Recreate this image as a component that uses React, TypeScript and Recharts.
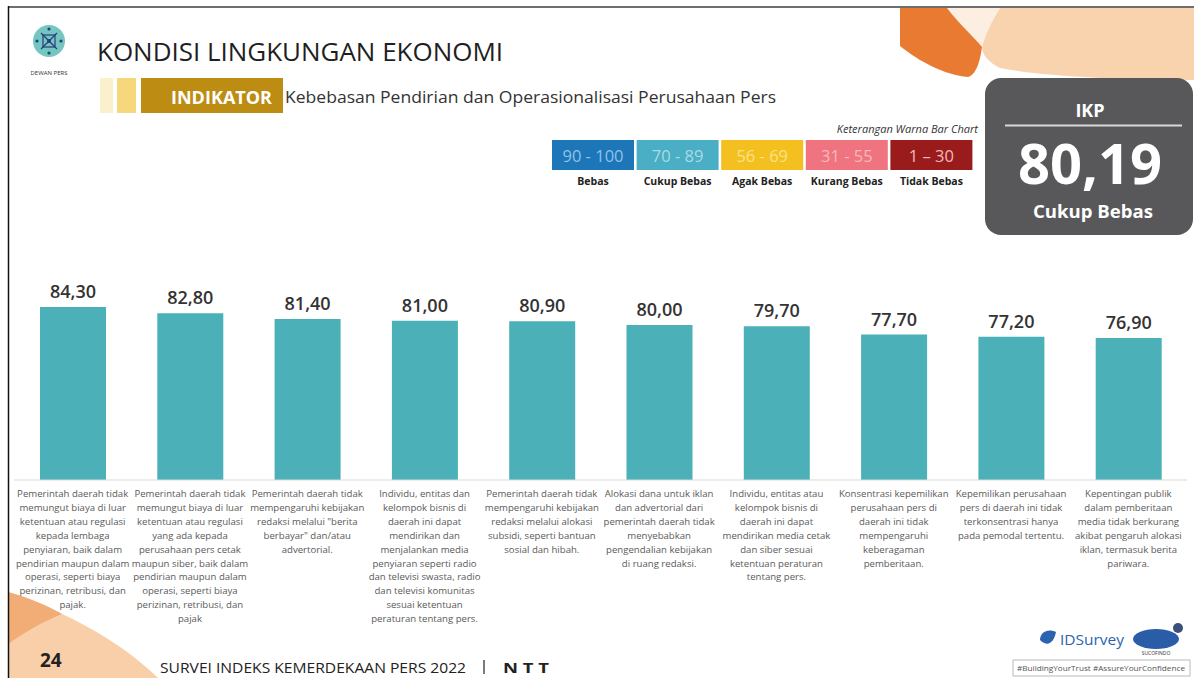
import React from 'react';
import { BarChart, Bar, XAxis, YAxis, LabelList } from 'recharts';

const categories: string[] = [
  'Pemerintah daerah tidak\nmemungut biaya di luar\nketentuan atau regulasi\nkepada lembaga\npenyiaran, baik dalam\npendirian maupun dalam\noperasi, seperti biaya\nperizinan, retribusi, dan\npajak.',
  'Pemerintah daerah tidak\nmemungut biaya di luar\nketentuan atau regulasi\nyang ada kepada\nperusahaan pers cetak\nmaupun siber, baik dalam\npendirian maupun dalam\noperasi, seperti biaya\nperizinan, retribusi, dan\npajak',
  'Pemerintah daerah tidak\nmempengaruhi kebijakan\nredaksi melalui "berita\nberbayar" dan/atau\nadvertorial.',
  'Individu, entitas dan\nkelompok bisnis di\ndaerah ini dapat\nmendirikan dan\nmenjalankan media\npenyiaran seperti radio\ndan televisi swasta, radio\ndan televisi komunitas\nsesuai ketentuan\nperaturan tentang pers.',
  'Pemerintah daerah tidak\nmempengaruhi kebijakan\nredaksi melalui alokasi\nsubsidi, seperti bantuan\nsosial dan hibah.',
  'Alokasi dana untuk iklan\ndan advertorial dari\npemerintah daerah tidak\nmenyebabkan\npengendalian kebijakan\ndi ruang redaksi.',
  'Individu, entitas atau\nkelompok bisnis di\ndaerah ini dapat\nmendirikan media cetak\ndan siber sesuai\nketentuan peraturan\ntentang pers.',
  'Konsentrasi kepemilikan\nperusahaan pers di\ndaerah ini tidak\nmempengaruhi\nkeberagaman\npemberitaan.',
  'Kepemilikan perusahaan\npers di daerah ini tidak\nterkonsentrasi hanya\npada pemodal tertentu.',
  'Kepentingan publik\ndalam pemberitaan\nmedia tidak berkurang\nakibat pengaruh alokasi\niklan, termasuk berita\npariwara.',
];

const values: number[] = [84.3, 82.8, 81.4, 81.0, 80.9, 80.0, 79.7, 77.7, 77.2, 76.9];

const legendRanges: string[] = ['90 - 100', '70 - 89', '56 - 69', '31 - 55', '1 \u2013 30'];
const legendLabels: string[] = ['Bebas', 'Cukup Bebas', 'Agak Bebas', 'Kurang Bebas', 'Tidak Bebas'];

const ikpValue = 80.19;
const ikpLabel = 'Cukup Bebas';

const title = 'KONDISI LINGKUNGAN EKONOMI';
const indikatorText = 'Kebebasan Pendirian dan Operasionalisasi Perusahaan Pers';
const footerText = 'SURVEI INDEKS KEMERDEKAAN PERS 2022';
const regionText = 'N T T';
const pageNumber = '24';

const legendFill = ['#1d76b8', '#4aaec4', '#f4c01f', '#ef7480', '#9a1b1b'];
const legendTextFill = ['#8fc3e8', '#a9dbe6', '#fbe08a', '#f8b7bd', '#f0bcbc'];

const data = categories.map((c, i) => ({ cat: c, value: values[i] }));

const fmt = (v: any) => Number(v).toFixed(2).replace('.', ',');

const FONT = "'Open Sans', 'Noto Sans', sans-serif";

const DescTick = (props: any) => {
  const { x, y, payload } = props;
  const lines = String(payload.value).split('\n');
  return (
    <text x={x} y={y} textAnchor="middle" fontFamily={FONT} fontSize={9.6} fill="#5a5a5a">
      {lines.map((l, i) => (
        <tspan key={i} x={x} dy={i === 0 ? 9 : 13.9}>
          {l}
        </tspan>
      ))}
    </text>
  );
};

const Decorations = () => (
  <svg width={1194} height={678} style={{ position: 'absolute', left: 0, top: 0 }}>
    <rect x={0} y={0} width={1194} height={678} fill="#ffffff" />
    {/* top-right orange shapes */}
    <path d="M1000,8 L1194,8 L1194,80 C1120,80 1040,76 1000,68 C988,62 982,54 982,47 C985,35 992,20 1000,8 Z" fill="#f9d3ad" />
    <path d="M947,8 L1000,8 C992,20 985,35 982,47 C975,38 960,25 947,8 Z" fill="#fcefe2" />
    <path d="M900,8 L947,8 C960,25 975,38 982,47 C980,62 976,75 968,77 C945,75 920,62 900,46 Z" fill="#e97a31" />
    {/* bottom-left orange shape */}
    <path d="M8,592 C55,608 115,636 158,678 L8,678 Z" fill="#f8cfa8" />
    <path d="M8,592 C30,598 48,606 62,614 C42,622 22,634 8,644 Z" fill="#f2ad76" />
    {/* borders */}
    <line x1={8} y1={7} x2={1194} y2={7} stroke="#6e6e6e" strokeWidth={2} />
    <line x1={8.5} y1={6} x2={8.5} y2={678} stroke="#111" strokeWidth={1.5} />
    {/* logo */}
    <circle cx={49} cy={41} r={16} fill="#74c7c1" />
    <g stroke="#2b3d7a" strokeWidth={1.2} fill="none">
      <path d="M41,33 L57,49 M57,33 L41,49" />
      <rect x={43} y={35} width={12} height={12} />
    </g>
    <g fill="#2b3d7a">
      <circle cx={49} cy={29} r={1.6} />
      <circle cx={49} cy={53} r={1.6} />
      <circle cx={37} cy={41} r={1.6} />
      <circle cx={61} cy={41} r={1.6} />
      <circle cx={49} cy={41} r={2} />
    </g>
    <text x={49} y={75} textAnchor="middle" fontFamily={FONT} fontSize={6} fill="#333">DEWAN PERS</text>
    {/* title */}
    <text x={97} y={61} fontFamily={FONT} fontSize={26} fill="#1f1f1f" textLength={406} lengthAdjust="spacingAndGlyphs">{title}</text>
    {/* indikator */}
    <rect x={100} y={78} width={13} height={35} fill="#faf1cc" />
    <rect x={117} y={78} width={19} height={35} fill="#f7d77c" />
    <rect x={141} y={78} width={142} height={35} fill="#bd8c12" />
    <text x={171} y={104} fontFamily={FONT} fontSize={17} fontWeight={700} fill="#ffffff" textLength={101} lengthAdjust="spacingAndGlyphs">INDIKATOR</text>
    <text x={285} y={103} fontFamily={FONT} fontSize={16} fill="#333" textLength={491} lengthAdjust="spacingAndGlyphs">{indikatorText}</text>
    {/* legend */}
    <text x={978} y={133} textAnchor="end" fontFamily={FONT} fontSize={11} fontStyle="italic" fill="#333">Keterangan Warna Bar Chart</text>
    {legendRanges.map((r, i) => {
      const x0 = 552 + i * 84.6;
      return (
        <g key={i}>
          <rect x={x0} y={140} width={82} height={30} fill={legendFill[i]} />
          <text x={x0 + 41} y={162} textAnchor="middle" fontFamily={FONT} fontSize={16.5} fill={legendTextFill[i]}>{r}</text>
          <text x={x0 + 41} y={185} textAnchor="middle" fontFamily={FONT} fontSize={10.5} fontWeight={700} fill="#222">{legendLabels[i]}</text>
        </g>
      );
    })}
    {/* IKP box */}
    <rect x={985} y={78} width={208} height={157} rx={16} fill="#58585a" />
    <text x={1090} y={117} textAnchor="middle" fontFamily={FONT} fontSize={18} fontWeight={700} fill="#fff">IKP</text>
    <line x1={1005} y1={125.5} x2={1182} y2={125.5} stroke="#d8d8d8" strokeWidth={2} />
    <text x={1090} y={184} textAnchor="middle" fontFamily={FONT} fontSize={56} fontWeight={700} fill="#fff" textLength={144} lengthAdjust="spacingAndGlyphs">{ikpValue.toFixed(2).replace('.', ',')}</text>
    <text x={1093} y={218} textAnchor="middle" fontFamily={FONT} fontSize={17} fontWeight={700} fill="#fff" textLength={120} lengthAdjust="spacingAndGlyphs">{ikpLabel}</text>
    {/* footer */}
    <text x={40} y={667} fontFamily={FONT} fontSize={19} fontWeight={700} fill="#222">{pageNumber}</text>
    <text x={160} y={673} fontFamily={FONT} fontSize={15} fill="#222" textLength={306} lengthAdjust="spacingAndGlyphs">{footerText}</text>
    <line x1={484} y1={660} x2={484} y2={674} stroke="#333" strokeWidth={1.3} />
    <text x={503} y={673} fontFamily={FONT} fontSize={15} fontWeight={700} fill="#222" textLength={46} lengthAdjust="spacingAndGlyphs">{regionText}</text>
    {/* bottom-right logos */}
    <circle cx={1178} cy={628} r={5} fill="#3b4f7a" />
    <path d="M1040,640 C1040,632 1048,628 1056,632 C1054,642 1048,648 1040,640 Z" fill="#2a64b0" />
    <text x={1060} y={645} fontFamily={FONT} fontSize={15} fill="#2a64b0" textLength={64} lengthAdjust="spacingAndGlyphs">IDSurvey</text>
    <ellipse cx={1156} cy={639} rx={23} ry={10} fill="#2a5ca8" />
    <text x={1156} y={655} textAnchor="middle" fontFamily={FONT} fontSize={5} fill="#333">SUCOFINDO</text>
    <rect x={1013} y={660} width={177} height={16} fill="#fff" stroke="#bbb" strokeWidth={1} />
    <text x={1101} y={671} textAnchor="middle" fontFamily={FONT} fontSize={7} fill="#555" textLength={168} lengthAdjust="spacingAndGlyphs">#BuildingYourTrust #AssureYourConfidence</text>
  </svg>
);

export default function App() {
  return (
    <div style={{ position: 'absolute', left: 0, top: 0, width: 1194, height: 678, overflow: 'hidden', background: '#fff' }}>
      <Decorations />
      <div style={{ position: 'absolute', left: 0, top: 230 }}>
        <BarChart width={1194} height={400} data={data} margin={{ top: 53, right: 7, left: 14, bottom: 0 }}>
          <YAxis hide domain={[43, 90]} />
          <XAxis
            dataKey="cat"
            height={150}
            interval={0}
            tickLine={false}
            axisLine={{ stroke: '#d9d9d9' }}
            tick={<DescTick />}
          />
          <Bar dataKey="value" fill="#4bb0b7" barSize={66} isAnimationActive={false}>
            <LabelList
              dataKey="value"
              position="top"
              offset={9}
              formatter={fmt}
              style={{ fontFamily: FONT, fontSize: 18, fontWeight: 600, fill: '#333' }}
            />
          </Bar>
        </BarChart>
      </div>
    </div>
  );
}
